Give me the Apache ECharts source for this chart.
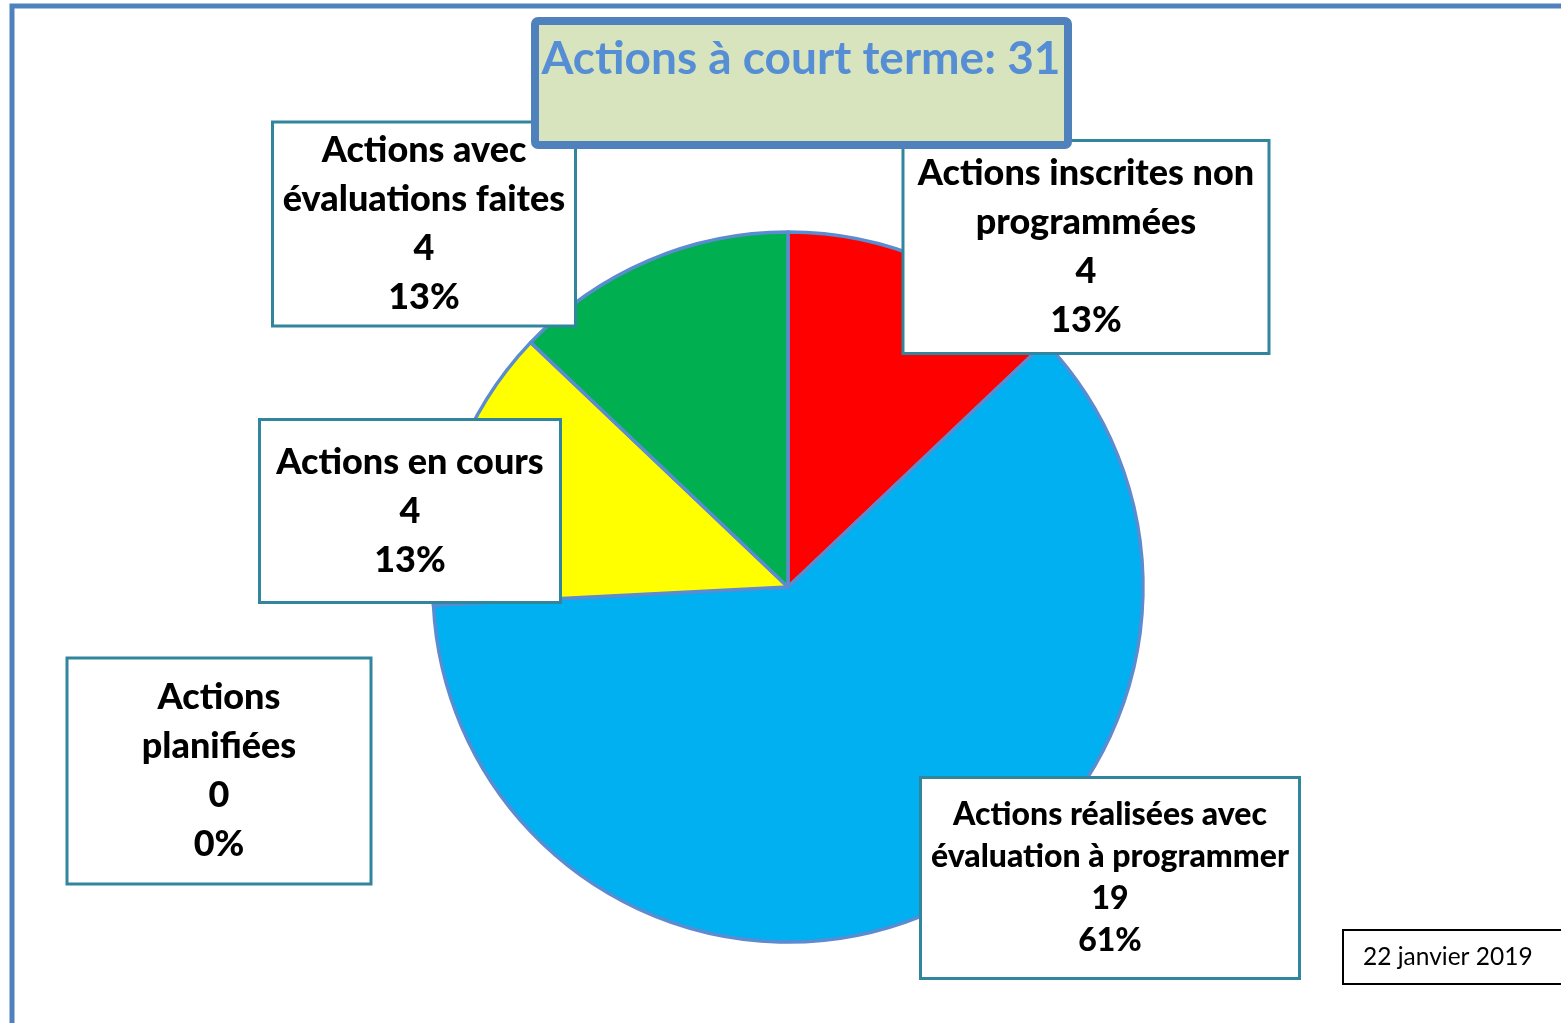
<!DOCTYPE html>
<html>
<head>
<meta charset="utf-8">
<script src="https://cdn.jsdelivr.net/npm/echarts@6/dist/echarts.min.js"></script>
<style>
html, body { margin: 0; padding: 0; background: #fff; }
#main { width: 1561px; height: 1023px; }
</style>
</head>
<body>
<div id="main"></div>
<script>
// data, clockwise from 12 o'clock
var categories = [
  'Actions inscrites non\nprogrammées',
  'Actions réalisées avec\névaluation à programmer',
  'Actions\nplanifiées',
  'Actions en cours',
  'Actions avec\névaluations faites'
];
var values = [4, 19, 0, 4, 4];
var colors = ['#FF0000', '#00B0F0', '#A5A5A5', '#FFFF00', '#00B050'];
var titlePrefix = 'Actions à court terme: ';
var dateText = '22 janvier 2019';

var total = values.reduce(function (a, b) { return a + b; }, 0);

// label box centres and sizes (px)
var boxPos = [[1086, 247], [1110, 878], [219, 771], [410, 511], [424, 224]];
var boxSize = [[363, 210], [376, 198], [301, 223], [298, 180], [300, 201]];

var myChart = echarts.init(document.getElementById('main'));

var seriesData = categories.map(function (name, i) {
  var item = {
    name: name,
    value: values[i],
    itemStyle: { color: colors[i] },
    label: { width: boxSize[i][0], height: boxSize[i][1] }
  };
  if (i === 1) {
    item.label.fontSize = 32;
    item.label.lineHeight = 42;
  }
  return item;
});

var option = {
  animation: false,
  backgroundColor: '#fff',
  graphic: [
    {
      type: 'rect', z: 0,
      shape: { x: 12, y: 6, width: 1700, height: 1200 },
      style: { fill: 'none', stroke: '#4F81BD', lineWidth: 5 }
    },
    {
      type: 'rect', z: 100,
      shape: { x: 535, y: 21, width: 533, height: 124, r: 3 },
      style: { fill: '#D7E4BD', stroke: '#4F81BD', lineWidth: 8 }
    },
    {
      type: 'text', z: 101,
      x: 801, y: 59,
      style: {
        text: titlePrefix + total,
        fill: '#558ED5',
        font: 'bold 46px Lato',
        align: 'center',
        verticalAlign: 'middle'
      }
    },
    {
      type: 'rect', z: 100,
      shape: { x: 1343, y: 930, width: 260, height: 54 },
      style: { fill: '#fff', stroke: '#000', lineWidth: 2 }
    },
    {
      type: 'text', z: 101,
      x: 1363, y: 957,
      style: {
        text: dateText,
        fill: '#000',
        font: '24.5px Lato',
        align: 'left',
        verticalAlign: 'middle'
      }
    }
  ],
  series: [{
    type: 'pie',
    center: [788, 587],
    radius: [0, 355],
    startAngle: 90,
    clockwise: true,
    percentPrecision: 0,
    itemStyle: { borderColor: '#5B8BD0', borderWidth: 3.5 },
    label: {
      show: true,
      position: 'outside',
      formatter: '{b}\n{c}\n{d}%',
      color: '#000',
      fontFamily: 'Lato',
      fontWeight: 900,
      fontSize: 36,
      lineHeight: 49,
      align: 'center',
      verticalAlign: 'middle',
      backgroundColor: '#fff',
      borderColor: '#31859C',
      borderWidth: 3
    },
    labelLine: { show: false },
    emphasis: { disabled: true },
    labelLayout: function (params) {
      var p = boxPos[params.dataIndex];
      return { x: p[0], y: p[1], align: 'center', verticalAlign: 'middle' };
    },
    data: seriesData
  }]
};

myChart.setOption(option);
</script>
</body>
</html>
